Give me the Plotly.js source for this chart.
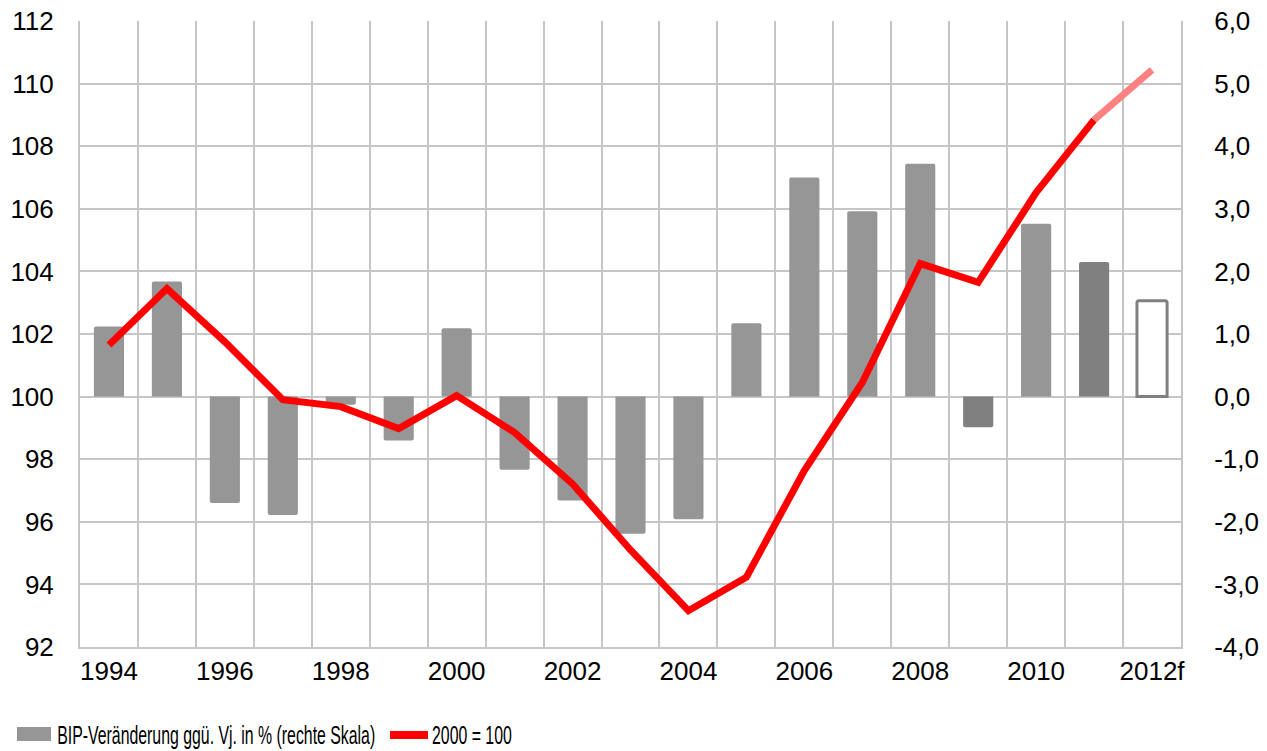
<!DOCTYPE html>
<html>
<head>
<meta charset="utf-8">
<script src="https://cdn.plot.ly/plotly-3.0.1.min.js"></script>
<style>
html,body{margin:0;padding:0;background:#fff;}
#chart{width:1267px;height:751px;}
#chart .annotation-text{transform-box:fill-box;transform-origin:left center;transform:scaleX(0.61);}
</style>
</head>
<body>
<div id="chart"></div>
<script>
const years = ['1994','1995','1996','1997','1998','1999','2000','2001','2002','2003','2004','2005','2006','2007','2008','2009','2010','2011','2012f'];
const tickLabels = ['1994','','1996','','1998','','2000','','2002','','2004','','2006','','2008','','2010','','2012f'];
const rightTickVals = [-4, -3, -2, -1, 0, 1, 2, 3, 4, 5, 6];
const rightTickText = ['-4,0','-3,0','-2,0','-1,0','0,0','1,0','2,0','3,0','4,0','5,0','6,0'];
// BIP-Veränderung ggü. Vj. in % (rechte Skala)
const gdpChange = [1.12, 1.84, -1.70, -1.89, -0.13, -0.70, 1.09, -1.17, -1.66, -2.19, -1.96, 1.17, 3.50, 2.96, 3.72, -0.49, 2.76, 2.15, 1.53];
// Index 2000 = 100 (actual up to 2011, forecast 2012f)
const indexYears = ['1994','1995','1996','1997','1998','1999','2000','2001','2002','2003','2004','2005','2006','2007','2008','2009','2010','2011'];
const indexValues = [101.65, 103.45, 101.75, 99.9, 99.68, 98.98, 100.03, 98.85, 97.21, 95.1, 93.16, 94.23, 97.64, 100.45, 104.25, 103.65, 106.52, 108.84];
const forecastYears = ['2011','2012f'];
const forecastValues = [108.84, 110.44];

const LIGHT = '#969696', DARK = '#808080';
const barFill = years.map(y => y === '2012f' ? '#ffffff' : (y === '2009' || y === '2011') ? DARK : LIGHT);
const barLineW = years.map(y => y === '2012f' ? 3 : 0);

const FONT = 'Liberation Sans, Arial, sans-serif';

const traces = [
  {
    type: 'bar', x: years, y: gdpChange, yaxis: 'y', xaxis: 'x',
    name: 'BIP-Veränderung ggü. Vj. in % (rechte Skala)',
    width: 0.52,
    marker: {color: barFill, line: {color: DARK, width: barLineW}, cornerradius: 2},
    showlegend: false, hoverinfo: 'x+y'
  },
  {
    type: 'scatter', mode: 'lines', x: indexYears, y: indexValues, yaxis: 'y2', xaxis: 'x',
    name: '2000 = 100', line: {color: '#ff0000', width: 7},
    showlegend: false
  },
  {
    type: 'scatter', mode: 'lines', x: forecastYears, y: forecastValues, yaxis: 'y2', xaxis: 'x',
    name: '2000 = 100 (Prognose)', line: {color: '#ff8080', width: 7},
    showlegend: false
  }
];

const px = v => (v - 80) / 1101;
const py = v => (647 - v) / 626;

const layout = {
  width: 1267, height: 751,
  margin: {l: 80, r: 86, t: 21, b: 104},
  paper_bgcolor: '#ffffff', plot_bgcolor: '#ffffff',
  separators: ',.',
  font: {family: FONT, size: 26, color: '#000000'},
  bargap: 0.48,
  showlegend: false,
  xaxis: {
    type: 'category', categoryorder: 'array', categoryarray: years,
    tickmode: 'array', tickvals: years, ticktext: tickLabels, tickangle: 0,
    tickson: 'boundaries', ticks: '', showgrid: true, gridcolor: '#c6c6c6', gridwidth: 2,
    showline: true, linecolor: '#c6c6c6', linewidth: 2,
    tickfont: {family: FONT, size: 26}, ticklabelstandoff: 0,
    range: [-0.5, 18.5], automargin: false, fixedrange: true
  },
  yaxis: {
    side: 'right', range: [-4, 6], tickmode: 'array', tickvals: rightTickVals, ticktext: rightTickText,
    showgrid: true, gridcolor: '#c6c6c6', gridwidth: 2, zeroline: false,
    showline: true, linecolor: '#c6c6c6', linewidth: 2, ticks: '',
    tickfont: {family: FONT, size: 26}, ticklabelstandoff: 26,
    automargin: false, fixedrange: true
  },
  yaxis2: {
    side: 'left', overlaying: 'y', range: [92, 112], dtick: 2, tick0: 92,
    showgrid: false, zeroline: false,
    showline: true, linecolor: '#c6c6c6', linewidth: 2, ticks: '',
    tickfont: {family: FONT, size: 26}, ticklabelstandoff: 19,
    automargin: false, fixedrange: true
  },
  shapes: [
    {type: 'rect', xref: 'paper', yref: 'paper', x0: px(17), x1: px(51), y0: py(741), y1: py(727),
     fillcolor: LIGHT, line: {width: 0}},
    {type: 'line', xref: 'paper', yref: 'paper', x0: px(390), x1: px(428), y0: py(735), y1: py(735),
     line: {color: '#ff0000', width: 8}}
  ],
  annotations: [
    {xref: 'paper', yref: 'paper', x: px(55), y: py(735), xanchor: 'left', yanchor: 'middle',
     text: 'BIP-Veränderung ggü. Vj. in % (rechte Skala)', showarrow: false,
     font: {family: FONT, size: 26, color: '#000'}},
    {xref: 'paper', yref: 'paper', x: px(430), y: py(735), xanchor: 'left', yanchor: 'middle',
     text: '2000 = 100', showarrow: false,
     font: {family: FONT, size: 26, color: '#000'}}
  ]
};

Plotly.newPlot('chart', traces, layout, {displayModeBar: false, staticPlot: true});
</script>
</body>
</html>
